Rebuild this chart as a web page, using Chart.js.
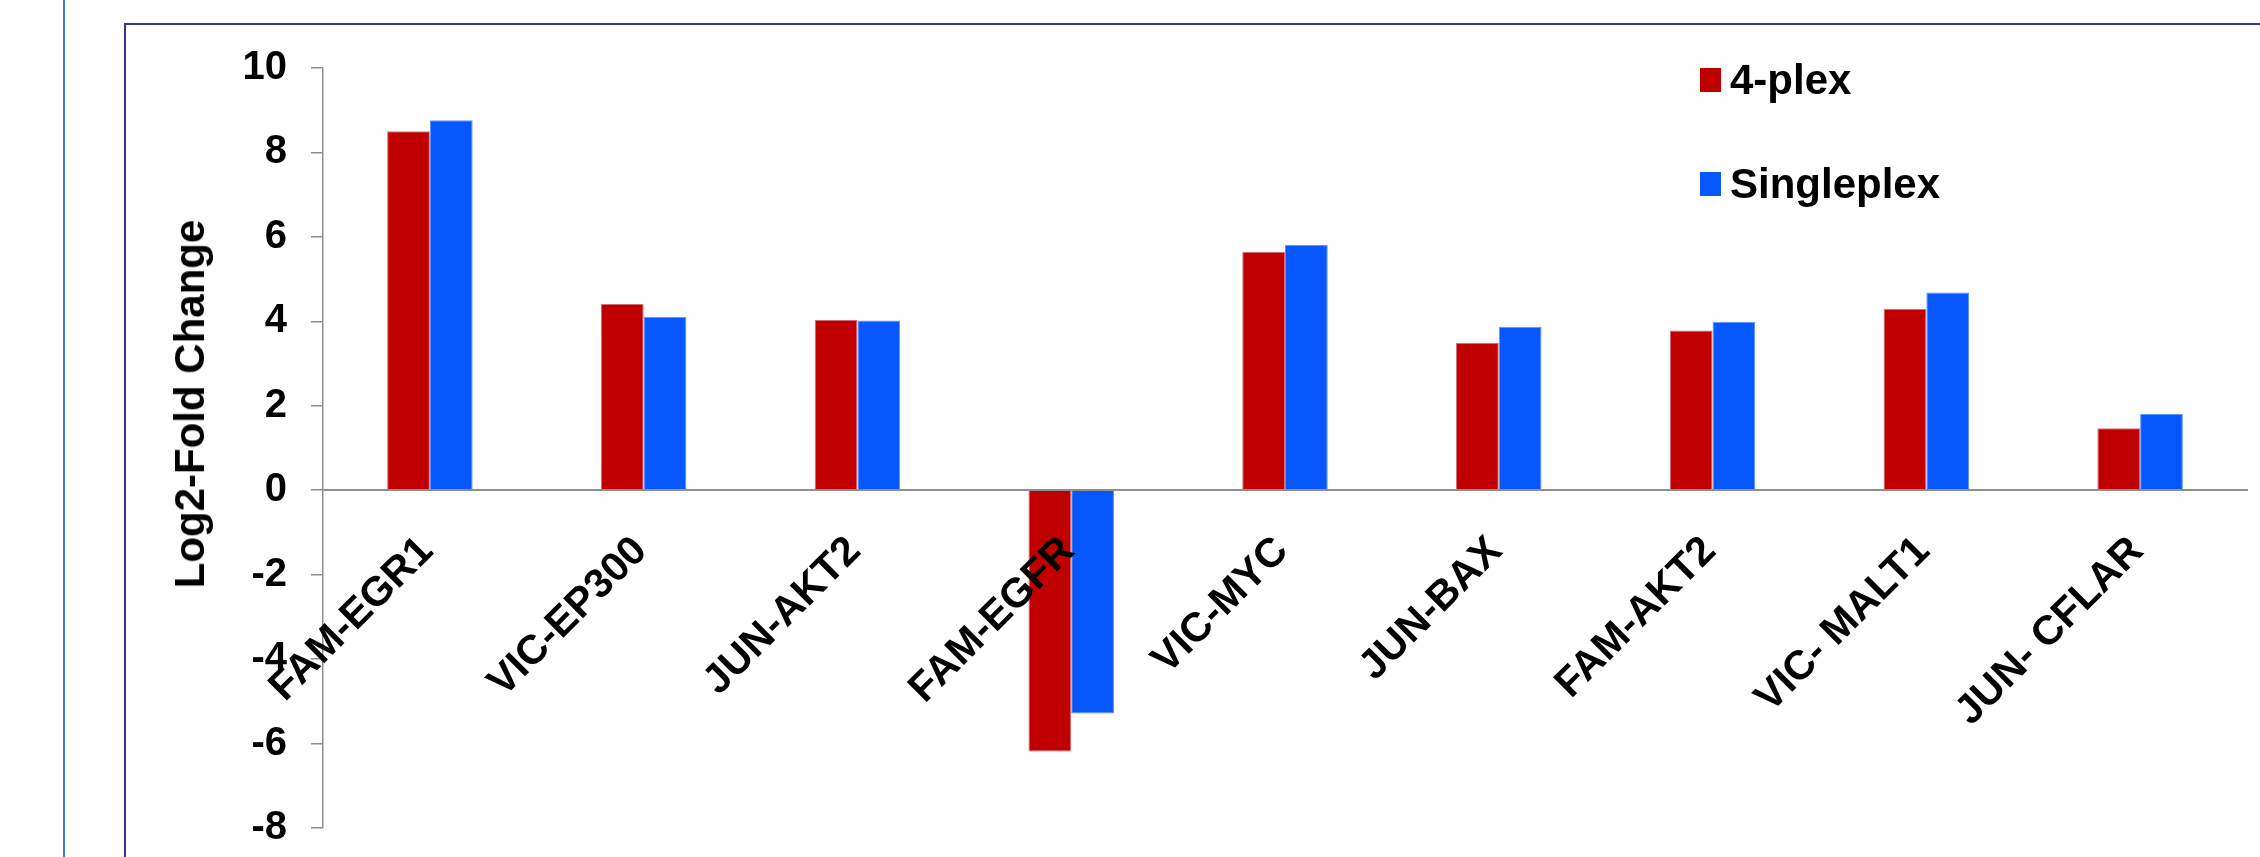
<!DOCTYPE html>
<html>
<head>
<meta charset="utf-8">
<script src="https://cdn.jsdelivr.net/npm/chart.js@4.4.1/dist/chart.umd.min.js"></script>
<style>
    html, body { margin: 0; padding: 0; background: #fff; }
    body { width: 2260px; height: 857px; position: relative; overflow: hidden; font-family: "Liberation Sans", Arial, sans-serif; }
    #outerLine { position: absolute; left: 63px; top: 0; width: 2px; height: 857px; background: #3c78c6; }
    #frame { position: absolute; left: 124px; top: 23px; width: 2300px; height: 1000px; border-left: 2px solid #333399; border-top: 2px solid #333399; }
    #chartBox { position: absolute; left: 0; top: 0; width: 2260px; height: 857px; }
    #yTitle { position: absolute; left: 190px; top: 404px; transform: translate(-50%, -50%) rotate(-90deg); font-weight: bold; font-size: 42px; white-space: nowrap; color: #000; }
    #legend { position: absolute; left: 1700px; top: 28px; }
    .legend-row { display: flex; align-items: center; height: 104px; }
    .legend-box { width: 21px; height: 24px; margin-right: 9px; }
    .legend-label { font-weight: bold; font-size: 42px; line-height: 1; color: #000; }
</style>
</head>
<body>
<div id="outerLine"></div>
<div id="frame"></div>
<div id="chartBox"><canvas id="foldChart" width="2260" height="857"></canvas></div>
<div id="yTitle">Log2-Fold Change</div>
<div id="legend"></div>
<script>
const categories = ['FAM-EGR1', 'VIC-EP300', 'JUN-AKT2', 'FAM-EGFR', 'VIC-MYC', 'JUN-BAX', 'FAM-AKT2', 'VIC- MALT1', 'JUN- CFLAR'];
const fourPlex = [8.50, 4.41, 4.03, -6.19, 5.65, 3.49, 3.78, 4.29, 1.47];
const singleplex = [8.76, 4.11, 4.02, -5.29, 5.81, 3.87, 3.99, 4.68, 1.81];
const seriesNames = ['4-plex', 'Singleplex'];
const seriesColors = ['#c00000', '#0757ff'];
const seriesEdges = ['#d96a70', '#5c93ff'];
const yMin = -8;
const yMax = 10;
const yStep = 2;

const boldFont = (size) => ({ family: '"Liberation Sans", Arial, sans-serif', weight: 'bold', size: size });

function buildLegend(datasets) {
    const box = document.getElementById('legend');
    datasets.forEach(ds => {
        const row = document.createElement('div');
        row.className = 'legend-row';
        const swatch = document.createElement('div');
        swatch.className = 'legend-box';
        swatch.style.background = ds.backgroundColor;
        const label = document.createElement('span');
        label.className = 'legend-label';
        label.textContent = ds.label;
        row.appendChild(swatch);
        row.appendChild(label);
        box.appendChild(row);
    });
}

const datasets = [fourPlex, singleplex].map((values, i) => ({
    label: seriesNames[i],
    data: values,
    backgroundColor: seriesColors[i],
    borderColor: seriesEdges[i],
    borderWidth: 1,
    categoryPercentage: 0.4,
    barPercentage: 1.0
}));

const ctx = document.getElementById('foldChart').getContext('2d');
const foldChart = new Chart(ctx, {
    type: 'bar',
    data: { labels: categories, datasets: datasets },
    options: {
        responsive: false,
        animation: false,
        layout: { padding: { top: 68, bottom: 29, left: 130, right: 13 } },
        plugins: {
            legend: { display: false },
            tooltip: { enabled: false }
        },
        scales: {
            x: {
                position: { y: 0 },
                grid: { display: false, drawTicks: false },
                border: { display: true, color: '#8f8f8f', width: 2, z: 1 },
                ticks: {
                    z: 1,  // category names sit on top of the bars
                    color: '#000',
                    font: boldFont(41),
                    minRotation: 45,
                    maxRotation: 45,
                    autoSkip: false,
                    padding: 37,
                    labelOffset: -3
                }
            },
            y: {
                min: yMin,
                max: yMax,
                afterFit: (scale) => {
                    // keep the plot area edges where the picture has them
                    scale.width = 193;
                    scale.paddingTop = 0;
                    scale.paddingBottom = 0;
                },
                grid: { drawOnChartArea: false, drawTicks: true, tickLength: 12, color: '#8f8f8f', lineWidth: 1.5 },
                border: { display: true, color: '#8f8f8f', width: 1.5 },
                ticks: {
                    stepSize: yStep,
                    color: '#000',
                    font: boldFont(40),
                    padding: 24
                }
            }
        }
    }
});

buildLegend(foldChart.data.datasets);
</script>
</body>
</html>
